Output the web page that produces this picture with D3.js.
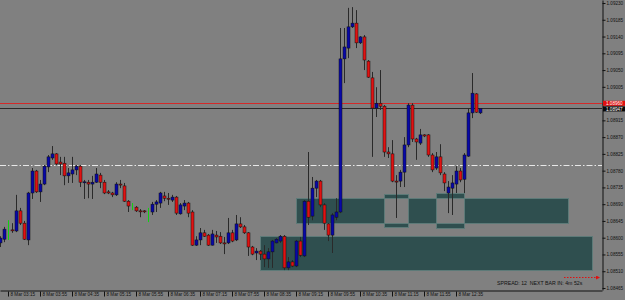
<!DOCTYPE html>
<html>
<head>
<meta charset="utf-8">
<script src="https://cdn.jsdelivr.net/npm/d3@7"></script>
<style>
    html, body { margin: 0; padding: 0; background: #808080; }
    svg { display: block; font-family: "Liberation Sans", Arial, sans-serif; }
</style>
</head>
<body>
<div id="chart"></div>
<script>
// 5 minute bars, first one at 03:05
const firstBar = '8 Mar 03:05';
const barMinutes = 5;

const opens = [
    1.08586, 1.08596, 1.08623, 1.08621, 1.08618, 1.08672, 1.08639, 1.08594, 1.08720, 1.08779,
    1.08723, 1.08744, 1.08790, 1.08814, 1.08825, 1.08803, 1.08800, 1.08766, 1.08771, 1.08782,
    1.08792, 1.08749, 1.08749, 1.08744, 1.08749, 1.08768, 1.08749, 1.08723, 1.08720, 1.08715,
    1.08744, 1.08739, 1.08698, 1.08685, 1.08682, 1.08672, 1.08672, 1.08672, 1.08669, 1.08690,
    1.08693, 1.08712, 1.08706, 1.08701, 1.08709, 1.08664, 1.08685, 1.08693, 1.08669, 1.08580,
    1.08594, 1.08613, 1.08607, 1.08580, 1.08607, 1.08604, 1.08586, 1.08586, 1.08613, 1.08594,
    1.08637, 1.08629, 1.08613, 1.08575, 1.08559, 1.08564, 1.08556, 1.08543, 1.08562, 1.08586,
    1.08591, 1.08604, 1.08519, 1.08535, 1.08524, 1.08591, 1.08551, 1.08698, 1.08658, 1.08733,
    1.08752, 1.08688, 1.08637, 1.08607, 1.08655, 1.08669, 1.09080, 1.09109, 1.09166, 1.09176,
    1.09123, 1.09139, 1.09074, 1.09029, 1.08948, 1.08961, 1.08953, 1.08830, 1.08825, 1.08752,
    1.08752, 1.08776, 1.08849, 1.08956, 1.08865, 1.08854, 1.08876, 1.08876, 1.08822, 1.08787,
    1.08817, 1.08771, 1.08720, 1.08733, 1.08744, 1.08779, 1.08757, 1.08819, 1.08935, 1.08986,
    1.08935
];
const highs = [
    1.08604, 1.08629, 1.08647, 1.08639, 1.08715, 1.08680, 1.08645, 1.08723, 1.08787, 1.08782,
    1.08755, 1.08795, 1.08822, 1.08846, 1.08827, 1.08817, 1.08817, 1.08787, 1.08817, 1.08795,
    1.08795, 1.08755, 1.08755, 1.08766, 1.08787, 1.08774, 1.08755, 1.08728, 1.08723, 1.08749,
    1.08755, 1.08747, 1.08701, 1.08693, 1.08685, 1.08677, 1.08674, 1.08680, 1.08696, 1.08701,
    1.08723, 1.08723, 1.08720, 1.08715, 1.08712, 1.08693, 1.08701, 1.08696, 1.08674, 1.08604,
    1.08626, 1.08621, 1.08610, 1.08621, 1.08618, 1.08615, 1.08602, 1.08653, 1.08621, 1.08661,
    1.08655, 1.08634, 1.08615, 1.08578, 1.08572, 1.08567, 1.08580, 1.08572, 1.08594, 1.08599,
    1.08607, 1.08607, 1.08548, 1.08540, 1.08594, 1.08602, 1.08701, 1.08830, 1.08763, 1.08755,
    1.08755, 1.08693, 1.08639, 1.08666, 1.08706, 1.09163, 1.09163, 1.09217, 1.09219, 1.09211,
    1.09141, 1.09144, 1.09077, 1.09045, 1.09004, 1.09050, 1.08956, 1.08843, 1.08862, 1.08768,
    1.08782, 1.08870, 1.08961, 1.08961, 1.08868, 1.08892, 1.08878, 1.08878, 1.08827, 1.08830,
    1.08851, 1.08776, 1.08752, 1.08768, 1.08792, 1.08787, 1.08827, 1.08948, 1.09042, 1.08988,
    1.08948
];
const lows = [
    1.08575, 1.08588, 1.08594, 1.08613, 1.08615, 1.08634, 1.08594, 1.08580, 1.08704, 1.08720,
    1.08696, 1.08741, 1.08776, 1.08809, 1.08795, 1.08768, 1.08741, 1.08747, 1.08747, 1.08768,
    1.08736, 1.08704, 1.08706, 1.08704, 1.08747, 1.08733, 1.08717, 1.08717, 1.08709, 1.08712,
    1.08733, 1.08696, 1.08669, 1.08674, 1.08669, 1.08655, 1.08666, 1.08642, 1.08661, 1.08669,
    1.08680, 1.08698, 1.08688, 1.08696, 1.08661, 1.08662, 1.08674, 1.08655, 1.08578, 1.08578,
    1.08580, 1.08602, 1.08578, 1.08579, 1.08586, 1.08583, 1.08556, 1.08583, 1.08588, 1.08591,
    1.08626, 1.08610, 1.08551, 1.08553, 1.08540, 1.08540, 1.08521, 1.08519, 1.08519, 1.08585,
    1.08586, 1.08513, 1.08513, 1.08521, 1.08521, 1.08548, 1.08548, 1.08634, 1.08647, 1.08709,
    1.08682, 1.08621, 1.08591, 1.08559, 1.08647, 1.08666, 1.09015, 1.09082, 1.09163, 1.09109,
    1.09120, 1.09050, 1.09029, 1.08817, 1.08924, 1.08943, 1.08817, 1.08814, 1.08749, 1.08653,
    1.08736, 1.08736, 1.08843, 1.08857, 1.08809, 1.08849, 1.08870, 1.08817, 1.08776, 1.08782,
    1.08768, 1.08725, 1.08666, 1.08661, 1.08720, 1.08749, 1.08720, 1.08817, 1.08921, 1.08935,
    1.08932
];
const closes = [
    1.08599, 1.08623, 1.08623, 1.08620, 1.08672, 1.08639, 1.08596, 1.08720, 1.08779, 1.08723,
    1.08744, 1.08792, 1.08817, 1.08825, 1.08798, 1.08798, 1.08766, 1.08774, 1.08782, 1.08792,
    1.08749, 1.08750, 1.08744, 1.08749, 1.08771, 1.08749, 1.08720, 1.08720, 1.08715, 1.08744,
    1.08743, 1.08698, 1.08685, 1.08685, 1.08672, 1.08671, 1.08671, 1.08672, 1.08690, 1.08696,
    1.08720, 1.08706, 1.08704, 1.08709, 1.08666, 1.08688, 1.08693, 1.08666, 1.08580, 1.08594,
    1.08613, 1.08604, 1.08580, 1.08610, 1.08602, 1.08586, 1.08585, 1.08613, 1.08591, 1.08637,
    1.08629, 1.08613, 1.08575, 1.08556, 1.08564, 1.08556, 1.08543, 1.08562, 1.08591, 1.08596,
    1.08604, 1.08519, 1.08535, 1.08524, 1.08591, 1.08553, 1.08698, 1.08655, 1.08733, 1.08752,
    1.08688, 1.08639, 1.08607, 1.08661, 1.08669, 1.09080, 1.09112, 1.09166, 1.09176, 1.09123,
    1.09139, 1.09077, 1.09031, 1.08948, 1.08961, 1.08953, 1.08830, 1.08825, 1.08752, 1.08751,
    1.08776, 1.08849, 1.08956, 1.08865, 1.08857, 1.08876, 1.08873, 1.08822, 1.08782, 1.08817,
    1.08774, 1.08747, 1.08736, 1.08747, 1.08779, 1.08755, 1.08822, 1.08935, 1.08988, 1.08937,
    1.08947
];
// bars drawn as green lines (index in the arrays above)
const greenBars = [2, 33, 37];

const priceTicks = [
    1.09230, 1.09185, 1.09140, 1.09095, 1.09050, 1.09005, 1.08960, 1.08915, 1.08870,
    1.08825, 1.08780, 1.08735, 1.08690, 1.08645, 1.08600, 1.08555, 1.08510, 1.08465
];
const timeTicks = [
    '8 Mar 03:15', '8 Mar 03:55', '8 Mar 04:35', '8 Mar 05:15', '8 Mar 05:55',
    '8 Mar 06:35', '8 Mar 07:15', '8 Mar 07:55', '8 Mar 08:35', '8 Mar 09:15',
    '8 Mar 09:55', '8 Mar 10:35', '8 Mar 11:15', '8 Mar 11:55', '8 Mar 12:35'
];

// rectangles (MT4 draws overlapping ones of a group xor-ed)
const zoneFrom = ['8 Mar 09:15', '8 Mar 11:05', '8 Mar 12:10', '8 Mar 08:30'];
const zoneTo = ['8 Mar 14:55', '8 Mar 11:35', '8 Mar 12:45', '8 Mar 15:25'];
const zoneTop = [1.08706, 1.08718, 1.08720, 1.08604];
const zoneBottom = [1.08640, 1.08628, 1.08626, 1.08513];
const zoneGroup = [0, 0, 0, 1];

const dashLevel = 1.08795;
const askPrice = 1.08960;
const bidPrice = 1.08947;
const arrowFrom = '8 Mar 14:50';
const arrowTo = '8 Mar 15:35';
const arrowPrice = 1.08494;
const infoText = 'SPREAD: 12  NEXT BAR IN: 4m 52s';

const width = 625, height = 300;
const plotW = 602, plotH = 290;
const pxPerBar = 4;

const parseTime = d3.timeParse('%d %b %H:%M');
const t0 = parseTime(firstBar);

const bars = opens.map((o, i) => ({
    time: d3.timeMinute.offset(t0, i * barMinutes),
    open: o,
    high: highs[i],
    low: lows[i],
    close: closes[i],
    green: greenBars.includes(i)
}));

const x = d3.scaleTime()
    .domain([t0, new Date(+t0 + barMinutes * 60000 * plotW / pxPerBar)])
    .range([0, plotW]);
const y = d3.scaleLinear()
    .domain([1.084596, 1.092381])
    .range([plotH, 0]);

const svg = d3.select('#chart')
    .append('svg')
    .attr('width', width)
    .attr('height', height);

svg.append('rect')
    .attr('width', width)
    .attr('height', height)
    .attr('fill', '#808080');

svg.append('clipPath')
    .attr('id', 'plot-clip')
    .append('rect')
    .attr('width', plotW)
    .attr('height', plotH);

const plot = svg.append('g').attr('clip-path', 'url(#plot-clip)');

// zones
const zones = zoneFrom.map((f, i) => ({
    x0: Math.round(x(parseTime(f))) + 0.5,
    x1: Math.round(x(parseTime(zoneTo[i]))) + 0.5,
    y0: Math.round(y(zoneTop[i])) + 0.5,
    y1: Math.round(y(zoneBottom[i])) + 0.5,
    group: zoneGroup[i]
}));

d3.groups(zones, d => d.group).forEach(([g, rects]) => {
    const path = rects.map(r => `M${r.x0},${r.y0}H${r.x1}V${r.y1}H${r.x0}Z`).join('');
    plot.append('path')
        .attr('d', path)
        .attr('fill', '#2f4f4f')
        .attr('fill-rule', 'evenodd');
    plot.selectAll(null)
        .data(rects)
        .enter().append('rect')
        .attr('x', d => d.x0)
        .attr('y', d => d.y0)
        .attr('width', d => d.x1 - d.x0)
        .attr('height', d => d.y1 - d.y0)
        .attr('fill', 'none')
        .attr('stroke', '#5d7a78')
        .attr('stroke-width', 1);
});

// dash dot level
plot.append('line')
    .attr('x1', 0).attr('x2', plotW)
    .attr('y1', Math.round(y(dashLevel)) + 0.5)
    .attr('y2', Math.round(y(dashLevel)) + 0.5)
    .attr('stroke', '#e8e8e8')
    .attr('stroke-dasharray', '6,2,1.5,2');

// ask / bid lines
plot.append('line')
    .attr('x1', 0).attr('x2', plotW)
    .attr('y1', Math.floor(y(askPrice)) + 0.5)
    .attr('y2', Math.floor(y(askPrice)) + 0.5)
    .attr('stroke', '#d42a2a');
plot.append('line')
    .attr('x1', 0).attr('x2', plotW)
    .attr('y1', Math.floor(y(bidPrice)) + 0.5)
    .attr('y2', Math.floor(y(bidPrice)) + 0.5)
    .attr('stroke', '#2a2a2a');

// candles
const cx = d => Math.round(x(d.time));

plot.selectAll('.wick')
    .data(bars)
    .enter().append('line')
    .attr('class', 'wick')
    .attr('x1', d => cx(d) + 0.5)
    .attr('x2', d => cx(d) + 0.5)
    .attr('y1', d => y(d.high))
    .attr('y2', d => y(d.low))
    .attr('stroke', d => d.green ? '#10d010' : '#2a2a2a')
    .attr('stroke-width', 1);

plot.selectAll('.body')
    .data(bars.filter(d => !d.green))
    .enter().append('rect')
    .attr('class', 'body')
    .attr('x', d => cx(d) - 1)
    .attr('width', 3)
    .attr('y', d => y(Math.max(d.open, d.close)))
    .attr('height', d => Math.max(1, Math.abs(y(d.open) - y(d.close))))
    .attr('fill', d => d.close > d.open ? '#0808a8' : (d.close < d.open ? '#e01212' : '#2a2a2a'))
    .attr('stroke', '#111')
    .attr('stroke-width', 0.5);

// arrow at the bottom right
svg.append('defs').append('marker')
    .attr('id', 'arrow-head')
    .attr('viewBox', '0 0 6 6')
    .attr('refX', 6).attr('refY', 3)
    .attr('markerWidth', 4).attr('markerHeight', 4)
    .attr('orient', 'auto')
    .append('path')
    .attr('d', 'M0,0L6,3L0,6Z')
    .attr('fill', '#e01010');

plot.append('line')
    .attr('x1', x(parseTime(arrowFrom)))
    .attr('x2', x(parseTime(arrowTo)))
    .attr('y1', Math.round(y(arrowPrice)) + 0.5)
    .attr('y2', Math.round(y(arrowPrice)) + 0.5)
    .attr('stroke', '#e01010')
    .attr('stroke-dasharray', '1.5,1.5')
    .attr('marker-end', 'url(#arrow-head)');

plot.append('text')
    .attr('x', 497)
    .attr('y', 285)
    .attr('font-size', 5.2)
    .attr('fill', '#111')
    .attr('xml:space', 'preserve')
    .style('white-space', 'pre')
    .text(infoText);

// price axis
const yAxis = svg.append('g')
    .attr('transform', `translate(${plotW + 0.5},0)`)
    .call(d3.axisRight(y)
        .tickValues(priceTicks)
        .tickFormat(d3.format('.5f'))
        .tickSize(3)
        .tickSizeOuter(0));
yAxis.select('.domain').attr('stroke', '#111');
yAxis.selectAll('.tick line').attr('stroke', '#111');
yAxis.selectAll('.tick text')
    .attr('x', 4)
    .attr('font-size', 4.6)
    .attr('fill', '#111')
    .attr('font-family', '"Liberation Sans", Arial, sans-serif');

// time axis
const xAxis = svg.append('g')
    .attr('transform', `translate(0,${plotH + 0.5})`)
    .call(d3.axisBottom(x)
        .tickValues(timeTicks.map(parseTime))
        .tickFormat(d3.timeFormat('%-d %b %H:%M'))
        .tickSize(6)
        .tickSizeOuter(0));
xAxis.select('.domain').attr('stroke', '#111');
xAxis.selectAll('.tick line').attr('stroke', '#111').attr('y1', 1).attr('y2', 6);
xAxis.selectAll('.tick text')
    .attr('x', 2)
    .attr('y', 2)
    .attr('text-anchor', 'start')
    .attr('font-size', 4.6)
    .attr('fill', '#111')
    .attr('font-family', '"Liberation Sans", Arial, sans-serif');

// ask / bid tags
[[askPrice, '#e01010'], [bidPrice, '#0a0a0a']].forEach(([p, c]) => {
    const py = y(p);
    svg.append('rect')
        .attr('x', plotW + 1)
        .attr('y', p === askPrice ? py - 2.8 : py - 2)
        .attr('width', width - plotW - 1)
        .attr('height', 5)
        .attr('fill', c);
    svg.append('text')
        .attr('x', plotW + 4)
        .attr('y', p === askPrice ? py - 0.3 : py + 0.5)
        .attr('dy', '0.35em')
        .attr('font-size', 4.6)
        .attr('fill', '#fff')
        .text(d3.format('.5f')(p));
});
</script>
</body>
</html>
